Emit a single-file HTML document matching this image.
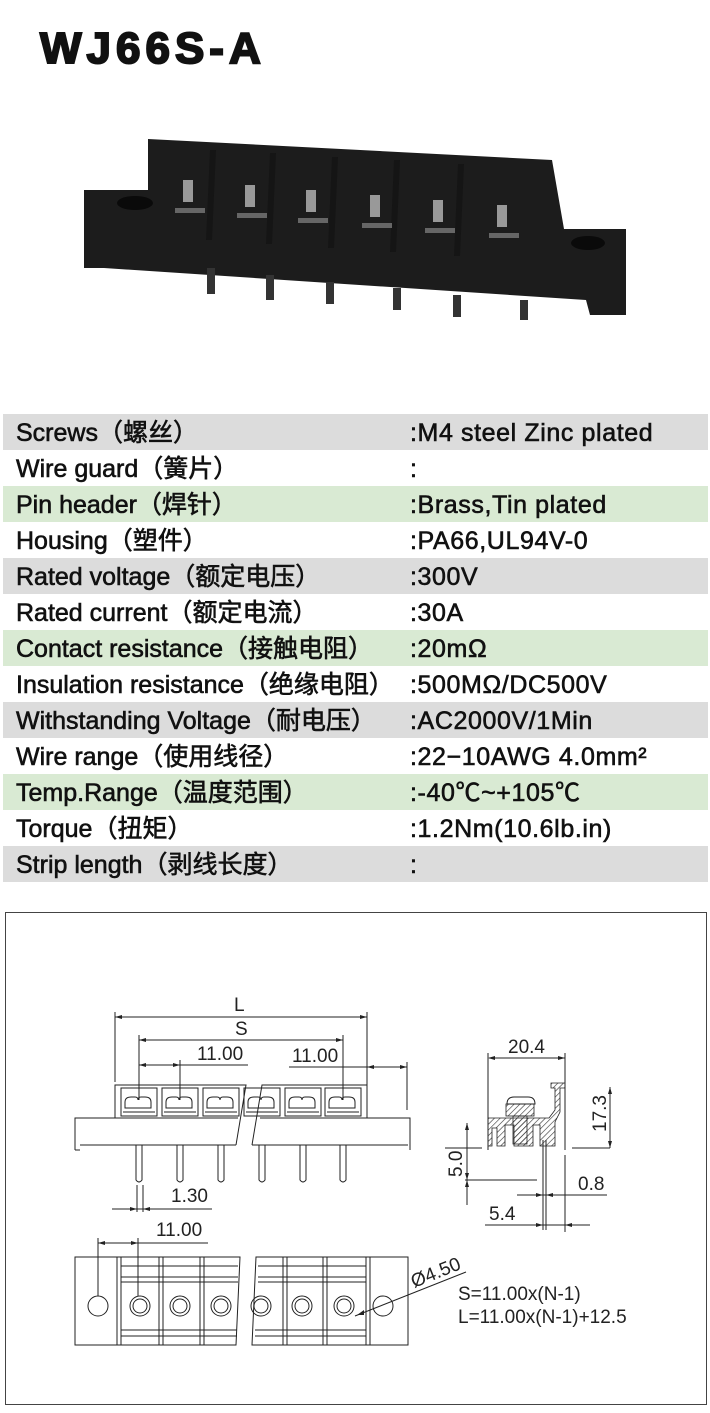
<!DOCTYPE html>
<html><head><meta charset="utf-8"><style>
html,body{margin:0;padding:0;background:#fff;}
body{width:710px;height:1413px;position:relative;overflow:hidden;font-family:"Liberation Sans","Noto Sans CJK SC",sans-serif;}
.t{position:absolute;left:40px;top:24px;font:900 44px "Liberation Sans",sans-serif;letter-spacing:5px;color:#111;-webkit-text-stroke:2px #111;}
.row{position:absolute;left:3px;width:705px;height:36px;font-size:25px;color:#111;-webkit-text-stroke:0.6px #111;line-height:38px;}
.row span{position:absolute;white-space:nowrap;}
.row .a{left:13px}.row .b{left:407px;letter-spacing:0.6px}
.g{background:#dcdcdc}.n{background:#d9ead3}
</style></head><body>
<div class="t">WJ66S-A</div>
<svg width="710" height="1413" style="position:absolute;left:0;top:0">
<defs><pattern id="h" width="4" height="4" patternUnits="userSpaceOnUse" patternTransform="rotate(45)"><line x1="0" y1="0" x2="0" y2="4" stroke="#333" stroke-width="1.2"/></pattern></defs>
<!-- photo -->
<polygon points="84,190 148,190 148,139 552,160 564,229 626,229 626,315 590,315 586,300 104,268 84,268" fill="#1c1c1c"/>
<ellipse cx="135" cy="203" rx="18" ry="7" fill="#0a0a0a"/>
<ellipse cx="588" cy="243" rx="17" ry="7" fill="#0a0a0a"/>
<g fill="#151515">
<polygon points="210,150 216,150 212,240 206,240"/><polygon points="270,153 276,153 272,244 266,244"/><polygon points="332,157 338,157 334,248 328,248"/><polygon points="394,160 400,160 396,252 390,252"/><polygon points="458,164 464,164 460,256 454,256"/>
</g>
<g fill="#999">
<rect x="183" y="180" width="10" height="22"/><rect x="245" y="185" width="10" height="22"/><rect x="306" y="190" width="10" height="22"/><rect x="370" y="195" width="10" height="22"/><rect x="433" y="200" width="10" height="22"/><rect x="497" y="205" width="10" height="22"/>
</g>
<g fill="#666">
<rect x="175" y="208" width="30" height="5"/><rect x="237" y="213" width="30" height="5"/><rect x="298" y="218" width="30" height="5"/><rect x="362" y="223" width="30" height="5"/><rect x="425" y="228" width="30" height="5"/><rect x="489" y="233" width="30" height="5"/>
</g>
<g fill="#333">
<rect x="207" y="268" width="8" height="26"/><rect x="266" y="275" width="8" height="25"/><rect x="326" y="282" width="8" height="22"/><rect x="393" y="288" width="8" height="22"/><rect x="453" y="295" width="8" height="22"/><rect x="520" y="300" width="8" height="20"/>
</g>
<!-- drawing frame -->
<rect x="5.5" y="912.5" width="701" height="492" fill="none" stroke="#444" stroke-width="1"/>
<g stroke="#222" stroke-width="1" fill="none">
<line x1="115" y1="1012" x2="115" y2="1082"/><line x1="367" y1="1012" x2="367" y2="1085"/>
<line x1="115" y1="1017" x2="367" y2="1017"/>
<line x1="139" y1="1035" x2="139" y2="1100"/><line x1="343" y1="1035" x2="343" y2="1100"/>
<line x1="139" y1="1040" x2="343" y2="1040"/>
<line x1="139" y1="1065" x2="248" y2="1065"/><line x1="180" y1="1060" x2="180" y2="1100"/>
<line x1="289" y1="1067" x2="407" y2="1067"/><line x1="407" y1="1062" x2="407" y2="1110"/>
<path d="M115,1118 V1085 H246 L236,1145 M252,1145 L262,1085 H367 V1118"/>
<path d="M75,1150 V1118 H238 M260,1118 H410 V1150"/>
<path d="M80,1145 H236 M252,1145 H408"/>
<line x1="75" y1="1150" x2="80" y2="1150"/>
<g id="c"><rect x="121" y="1088" width="36" height="28"/><path d="M125,1108 v-6 q0,-5 6,-5 h4 q3,0 3,3 q0,-3 3,-3 h4 q6,0 6,5 v6 z M123,1112 h32"/></g>
<use href="#c" x="41"/><use href="#c" x="82"/><use href="#c" x="123"/><use href="#c" x="164"/><use href="#c" x="204"/>
<g id="p"><path d="M136,1145 V1180 q3,4 6,0 V1145"/></g>
<use href="#p" x="41"/><use href="#p" x="82"/><use href="#p" x="123"/><use href="#p" x="164"/><use href="#p" x="204"/>
<line x1="137" y1="1185" x2="137" y2="1212"/><line x1="143" y1="1185" x2="143" y2="1212"/>
<line x1="112" y1="1209" x2="212" y2="1209"/>
<line x1="98" y1="1238" x2="98" y2="1296"/><line x1="138" y1="1238" x2="138" y2="1296"/>
<line x1="98" y1="1243" x2="208" y2="1243"/>
<path d="M75,1257 H240 L236,1345 H75 Z M256,1257 H408 V1345 H252 Z"/>
<g><line x1="117" y1="1257" x2="117" y2="1345"/><line x1="121" y1="1257" x2="121" y2="1345"/><line x1="159" y1="1257" x2="159" y2="1345"/><line x1="163" y1="1257" x2="163" y2="1345"/><line x1="200" y1="1257" x2="200" y2="1345"/><line x1="204" y1="1257" x2="204" y2="1345"/><line x1="283" y1="1257" x2="283" y2="1345"/><line x1="287" y1="1257" x2="287" y2="1345"/><line x1="323" y1="1257" x2="323" y2="1345"/><line x1="327" y1="1257" x2="327" y2="1345"/><line x1="366" y1="1257" x2="366" y2="1345"/><line x1="370" y1="1257" x2="370" y2="1345"/>
<line x1="121" y1="1266" x2="238" y2="1266"/><line x1="258" y1="1266" x2="366" y2="1266"/><line x1="121" y1="1277" x2="238" y2="1277"/><line x1="258" y1="1277" x2="366" y2="1277"/><line x1="121" y1="1282" x2="238" y2="1282"/><line x1="258" y1="1282" x2="366" y2="1282"/><line x1="121" y1="1330" x2="237" y2="1330"/><line x1="255" y1="1330" x2="366" y2="1330"/><line x1="121" y1="1336" x2="237" y2="1336"/><line x1="255" y1="1336" x2="366" y2="1336"/></g>
<circle cx="98" cy="1306" r="10"/><circle cx="383" cy="1306" r="10"/>
<g id="o"><circle cx="140" cy="1306" r="10"/><circle cx="140" cy="1306" r="7"/></g>
<use href="#o" x="40"/><use href="#o" x="81"/><use href="#o" x="121"/><use href="#o" x="162"/><use href="#o" x="204"/>
<line x1="355" y1="1316" x2="466" y2="1272"/>
<line x1="488" y1="1053" x2="488" y2="1150"/><line x1="565" y1="1053" x2="565" y2="1150"/>
<line x1="489" y1="1058" x2="565" y2="1058"/>
<line x1="445" y1="1148" x2="482" y2="1148"/><line x1="572" y1="1148" x2="610" y2="1148"/>
<line x1="610" y1="1087" x2="610" y2="1148"/>
<line x1="467" y1="1123" x2="467" y2="1205"/>
<line x1="465" y1="1180" x2="537" y2="1180"/>
<line x1="543" y1="1140" x2="543" y2="1230"/><line x1="546" y1="1140" x2="546" y2="1230"/>
<line x1="517" y1="1195" x2="607" y2="1195"/>
<line x1="565" y1="1155" x2="565" y2="1232"/>
<line x1="485" y1="1225" x2="590" y2="1225"/>
</g>
<g fill="url(#h)" stroke="#222" stroke-width="0.8">
<path d="M488,1118 H549 L555,1110 V1088 H551 V1083 H565 V1088 H560 V1112 L555,1122 V1146 H540 V1125 H533 V1146 H514 V1125 H505 V1146 H497 V1128 H492 V1146 H488 Z"/>
<rect x="506" y="1104" width="28" height="12"/><rect x="513" y="1116" width="14" height="28"/>
</g>
<path d="M507,1104 q0,-7 7,-7 h14 q7,0 7,7 z" fill="#fff" stroke="#222"/>
<g fill="#222">
<path d="M115,1017 l7,-2 v4z M367,1017 l-7,-2 v4z M139,1040 l7,-2 v4z M343,1040 l-7,-2 v4z M139,1065 l7,-2 v4z M180,1065 l-7,-2 v4z M367,1067 l7,-2 v4z M407,1067 l-7,-2 v4z"/>
<path d="M137,1209 l-7,-2 v4z M143,1209 l7,-2 v4z M98,1243 l7,-2 v4z M138,1243 l-7,-2 v4z M357,1315 l7,-5 v5z"/>
<path d="M488,1058 l7,-2 v4z M565,1058 l-7,-2 v4z M610,1087 l-2,7 h4z M610,1148 l-2,-7 h4z M467,1123 l-2,7 h4z M467,1180 l-2,-7 h4z M467,1180 l-2,7 h4z M543,1195 l-7,-2 v4z M546,1195 l7,-2 v4z M543,1225 l-7,-2 v4z M565,1225 l7,-2 v4z"/>
</g>
<g font-family="Liberation Sans,sans-serif" font-size="19" fill="#222">
<text x="234" y="1011">L</text><text x="235" y="1035">S</text>
<text x="197" y="1060">11.00</text><text x="292" y="1062">11.00</text>
<text x="171" y="1202">1.30</text><text x="156" y="1236">11.00</text>
<text x="508" y="1053">20.4</text>
<text x="578" y="1190">0.8</text><text x="489" y="1220">5.4</text>
<text transform="translate(606,1132) rotate(-90)">17.3</text>
<text transform="translate(462,1177) rotate(-90)">5.0</text>
<text transform="translate(414,1288) rotate(-22)">Ø4.50</text>
<text x="458" y="1300">S=11.00x(N-1)</text>
<text x="458" y="1323">L=11.00x(N-1)+12.5</text>
</g>
</svg>
<div class="row g" style="top:414px"><span class="a">Screws（螺丝）</span><span class="b">:M4 steel Zinc plated</span></div>
<div class="row" style="top:450px"><span class="a">Wire guard（簧片）</span><span class="b">:</span></div>
<div class="row n" style="top:486px"><span class="a">Pin header（焊针）</span><span class="b">:Brass,Tin plated</span></div>
<div class="row" style="top:522px"><span class="a">Housing（塑件）</span><span class="b">:PA66,UL94V-0</span></div>
<div class="row g" style="top:558px"><span class="a">Rated voltage（额定电压）</span><span class="b">:300V</span></div>
<div class="row" style="top:594px"><span class="a">Rated current（额定电流）</span><span class="b">:30A</span></div>
<div class="row n" style="top:630px"><span class="a">Contact resistance（接触电阻）</span><span class="b">:20mΩ</span></div>
<div class="row" style="top:666px"><span class="a">Insulation resistance（绝缘电阻）</span><span class="b">:500MΩ/DC500V</span></div>
<div class="row g" style="top:702px"><span class="a">Withstanding Voltage（耐电压）</span><span class="b">:AC2000V/1Min</span></div>
<div class="row" style="top:738px"><span class="a">Wire range（使用线径）</span><span class="b">:22−10AWG 4.0mm²</span></div>
<div class="row n" style="top:774px"><span class="a">Temp.Range（温度范围）</span><span class="b">:-40℃~+105℃</span></div>
<div class="row" style="top:810px"><span class="a">Torque（扭矩）</span><span class="b">:1.2Nm(10.6lb.in)</span></div>
<div class="row g" style="top:846px"><span class="a">Strip length（剥线长度）</span><span class="b">:</span></div>
</body></html>
